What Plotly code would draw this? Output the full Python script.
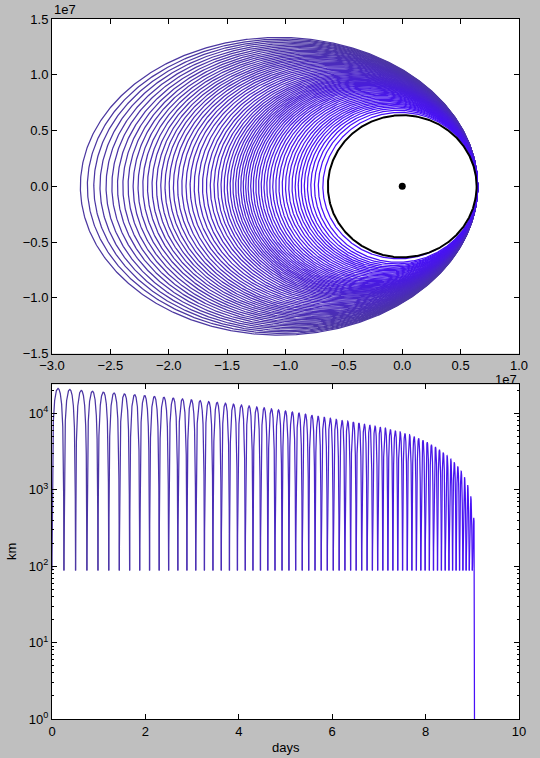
import numpy as np
import plotly.graph_objects as go

# ---------------- data ----------------
# apogee altitude of each successive orbit (km); the last one ends in impact
APOGEE_ALT_KM = [
    21200, 20600, 20050, 19520, 19000, 18500, 18020, 17560, 17110, 16680,
    16260, 15850, 15450, 15060, 14680, 14310, 13950, 13590, 13230, 12870,
    12510, 12150, 11800, 11450, 11090, 10740, 10400, 10070, 9750, 9440,
    9150, 8880, 8620, 8370, 8130, 7900, 7680, 7460, 7250, 7040,
    6830, 6610, 6390, 6170, 5940, 5710, 5470, 5230, 4980, 4720,
    4460, 4190, 3910, 3630, 3350, 3070, 2800, 2540, 2280, 2020,
    1750, 1460, 1150, 820, 430,
]
PERIGEE_ALT_KM = 88.0           # perigee altitude of every orbit
IMPACT_PERIGEE_ALT_KM = -150.0  # final descending arc dips below the surface
EARTH_RADIUS_KM = 6371.0
MU_KM3_S2 = 398600.4418
EARTH_CENTER = (0.0, 0.0)

TOP_X_RANGE = [-3.0e7, 1.0e7]
TOP_Y_RANGE = [-1.5e7, 1.5e7]
TOP_X_TICKS = [-3.0e7, -2.5e7, -2.0e7, -1.5e7, -1.0e7, -0.5e7, 0.0, 0.5e7, 1.0e7]
TOP_X_TICK_TEXT = ["\u22123.0", "\u22122.5", "\u22122.0", "\u22121.5", "\u22121.0",
                   "\u22120.5", "0.0", "0.5", "1.0"]
TOP_Y_TICKS = [-1.5e7, -1.0e7, -0.5e7, 0.0, 0.5e7, 1.0e7, 1.5e7]
TOP_Y_TICK_TEXT = ["\u22121.5", "\u22121.0", "\u22120.5", "0.0", "0.5", "1.0", "1.5"]

BOTTOM_X_RANGE = [0, 10]
BOTTOM_X_TICKS = [0, 2, 4, 6, 8, 10]
BOTTOM_Y_MIN_KM = 1.0
BOTTOM_Y_MAX_KM = 2.39e4
BOTTOM_Y_TICKS = [1, 10, 100, 1000, 10000]
BOTTOM_Y_TICK_TEXT = ["10<sup>0</sup>", "10<sup>1</sup>", "10<sup>2</sup>",
                      "10<sup>3</sup>", "10<sup>4</sup>"]

COLOR_START = (76, 56, 160)
COLOR_END = (72, 16, 248)
FONT = "Liberation Sans, Arial, Helvetica, sans-serif"

# ---------------- build orbits ----------------
R = EARTH_RADIUS_KM


def ellipse(ha, hp):
    ra, rp = R + ha, R + hp
    a = 0.5 * (ra + rp)
    e = (ra - rp) / (ra + rp)
    b = a * np.sqrt(1 - e * e)
    T = 2 * np.pi * np.sqrt(a ** 3 / MU_KM3_S2) / 86400.0
    return a, e, b, T


def arc(a, e, b, T, Es, t_ref, E_ref):
    x = a * (np.cos(Es) - e)
    y = b * np.sin(Es)
    M = Es - e * np.sin(Es)
    M_ref = E_ref - e * np.sin(E_ref)
    t = t_ref + T * (M - M_ref) / (2 * np.pi)
    alt = a * (1 - e * np.cos(Es)) - R
    return x, y, t, alt


def color(i, n):
    f = i / max(n - 1, 1)
    c = [round(s + (t - s) * f) for s, t in zip(COLOR_START, COLOR_END)]
    return "rgb(%d,%d,%d)" % tuple(c)


fig = go.Figure()
n = len(APOGEE_ALT_KM)
t0 = 0.0
for i, ha in enumerate(APOGEE_ALT_KM):
    a, e, b, T = ellipse(ha, PERIGEE_ALT_KM)
    col = color(i, n)
    if i < n - 1:
        Es = np.linspace(0, 2 * np.pi, 700)
        x, y, t, alt = arc(a, e, b, T, Es, t0, 0.0)
        t0 += T
    else:
        E1 = np.linspace(0, np.pi, 350)
        x1, y1, t1, alt1 = arc(a, e, b, T, E1, t0, 0.0)
        t_apo = t1[-1]
        a2, e2, b2, T2 = ellipse(ha, IMPACT_PERIGEE_ALT_KM)
        E_imp = 2 * np.pi - np.arccos((1 - R / a2) / e2)
        E2 = np.linspace(np.pi, E_imp, 300)
        x2, y2, t2, alt2 = arc(a2, e2, b2, T2, E2, t_apo, np.pi)
        x = np.concatenate([x1, x2])
        y = np.concatenate([y1, y2])
        t = np.concatenate([t1, t2])
        alt = np.concatenate([alt1, alt2])
        alt = np.where(alt <= 0.5, 0.05, alt)
    fig.add_trace(go.Scatter(x=x * 1000.0, y=y * 1000.0, mode="lines",
                             line=dict(color=col, width=1.25), xaxis="x", yaxis="y",
                             hoverinfo="skip", showlegend=False))
    fig.add_trace(go.Scatter(x=t, y=alt, mode="lines",
                             line=dict(color=col, width=1.25), xaxis="x2", yaxis="y2",
                             hoverinfo="skip", showlegend=False))

# Earth outline and centre
th = np.linspace(0, 2 * np.pi, 721)
fig.add_trace(go.Scatter(x=EARTH_CENTER[0] + R * 1000 * np.cos(th),
                         y=EARTH_CENTER[1] + R * 1000 * np.sin(th),
                         mode="lines", line=dict(color="black", width=2),
                         xaxis="x", yaxis="y", hoverinfo="skip", showlegend=False))
fig.add_trace(go.Scatter(x=[EARTH_CENTER[0]], y=[EARTH_CENTER[1]], mode="markers",
                         marker=dict(color="black", size=7),
                         xaxis="x", yaxis="y", hoverinfo="skip", showlegend=False))

# ---------------- layout ----------------
W, H = 540, 758
ML, MR, MT, MB = 52, 19, 16, 39
PH = H - MT - MB


def py(pix):  # figure pixel row -> paper fraction
    return (H - MB - pix) / PH


def px(pix):
    return (pix - ML) / (W - ML - MR)


axis_common = dict(showline=True, linecolor="black", linewidth=1, mirror="ticks",
                   ticks="inside", ticklen=5, tickwidth=1, tickcolor="black",
                   showgrid=False, zeroline=False,
                   tickfont=dict(family=FONT, size=13, color="black"))

fig.update_layout(
    width=W, height=H,
    margin=dict(l=ML, r=MR, t=MT, b=MB, pad=0),
    paper_bgcolor="#bfbfbf", plot_bgcolor="white",
    font=dict(family=FONT, size=13, color="black"),
    showlegend=False,
    xaxis=dict(domain=[0, 1], range=TOP_X_RANGE, anchor="y",
               tickmode="array", tickvals=TOP_X_TICKS, ticktext=TOP_X_TICK_TEXT,
               **axis_common),
    yaxis=dict(domain=[py(352), 1], range=TOP_Y_RANGE, anchor="x",
               tickmode="array", tickvals=TOP_Y_TICKS, ticktext=TOP_Y_TICK_TEXT,
               **axis_common),
    xaxis2=dict(domain=[0, 1], range=BOTTOM_X_RANGE, anchor="y2",
                tickmode="array", tickvals=BOTTOM_X_TICKS,
                ticktext=[str(v) for v in BOTTOM_X_TICKS], **axis_common),
    yaxis2=dict(domain=[0, py(383)], type="log",
                range=[np.log10(BOTTOM_Y_MIN_KM), np.log10(BOTTOM_Y_MAX_KM)],
                anchor="x2", tickmode="array", tickvals=BOTTOM_Y_TICKS,
                ticktext=BOTTOM_Y_TICK_TEXT,
                minor=dict(ticks="inside", ticklen=2, tickcolor="black", dtick="D1",
                           showgrid=False),
                **axis_common),
    annotations=[
        dict(text="1e7", xref="paper", yref="paper", x=0, y=1, xanchor="left",
             yanchor="bottom", showarrow=False, font=dict(size=13)),
        dict(text="1e7", xref="paper", yref="paper", x=1, y=py(369), xanchor="right",
             yanchor="top", showarrow=False, font=dict(size=13)),
        dict(text="days", xref="paper", yref="paper", x=0.5, y=py(738), xanchor="center",
             yanchor="top", showarrow=False, font=dict(size=13)),
        dict(text="km", xref="paper", yref="paper", x=px(12), y=py(551), xanchor="center",
             yanchor="middle", textangle=-90, showarrow=False, font=dict(size=13)),
    ],
)

fig.write_html(
    "out.html",
    config={"displayModeBar": False},
    post_script="document.body.style.margin='0';document.body.style.padding='0';"
                "document.body.style.overflow='hidden';"
                "document.body.style.background='#bfbfbf';",
)
